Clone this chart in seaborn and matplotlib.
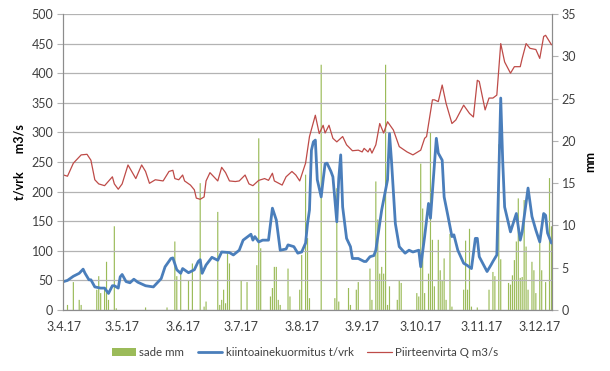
import matplotlib
matplotlib.use("Agg")
import matplotlib.dates as mdates
import matplotlib.pyplot as plt
import numpy as np
import pandas as pd
import seaborn as sns

start = pd.Timestamp("2017-04-03")

# sade mm (day offset from 3.4.17, mm)
rain_day = [2, 5, 8, 9, 17, 18, 19, 21, 22, 23, 26, 27, 42, 53, 57, 58, 60, 64, 66,
            70, 72, 73, 79, 80, 81, 82, 83, 84, 85, 91, 94, 99, 100, 101, 106, 107,
            108, 109, 110, 111, 115, 116, 121, 122, 124, 125, 126, 132, 139, 140, 141,
            146, 147, 150, 151, 157, 158, 160, 161, 162, 163, 164, 165, 166, 167, 171,
            172, 173, 181, 182, 183, 184, 185, 187, 188, 189, 190, 192, 193, 194, 195,
            196, 198, 199, 205, 206, 207, 208, 209, 212, 218, 220, 221, 223, 224, 228,
            229, 230, 231, 232, 233, 234, 235, 236, 237, 238, 240, 241, 242, 244, 245,
            247, 249, 250]
rain_mm = [0.6, 3.3, 1.2, 0.6, 2.4, 4.0, 2.0, 2.4, 5.7, 1.2, 9.9, 0.2, 0.3, 0.3, 8.1,
           4.0, 4.3, 3.5, 5.5, 15.0, 0.4, 1.0, 11.6, 0.6, 1.2, 2.4, 0.8, 6.7, 5.5, 3.5,
           3.3, 5.3, 20.3, 7.3, 1.6, 2.6, 5.1, 5.1, 1.2, 0.6, 4.9, 1.6, 2.4, 6.5, 16.0,
           8.5, 1.4, 29.0, 1.4, 14.4, 1.0, 2.6, 0.6, 2.4, 3.3, 4.9, 1.2, 15.2, 10.7,
           4.3, 5.1, 4.3, 29.0, 0.6, 2.8, 1.2, 3.5, 3.2, 2.0, 1.6, 17.3, 12.0, 2.0,
           4.3, 21.0, 8.3, 2.8, 8.3, 4.7, 3.5, 6.1, 1.2, 9.0, 0.4, 2.4, 8.2, 2.4, 9.6,
           0.4, 0.3, 2.4, 4.5, 4.0, 19.6, 6.0, 3.2, 3.0, 4.1, 5.9, 8.1, 13.2, 3.8, 3.9,
           13.0, 7.5, 2.4, 5.7, 4.7, 2.0, 8.1, 4.7, 3.3, 15.6, 9.9]

# kiintoainekuormitus t/vrk
load_day = [0, 2, 5, 8, 10, 11, 13, 14, 16, 19, 21, 23, 25, 26, 28, 29, 30, 32, 34,
            36, 38, 42, 46, 50, 52, 55, 56, 58, 60, 61, 64, 67, 69, 70, 71, 73, 76, 79,
            81, 85, 87, 90, 92, 96, 97, 98, 100, 102, 105, 107, 109, 111, 114, 115, 118,
            120, 122, 124, 125, 126, 127, 128, 129, 130, 132, 133, 134, 135, 137, 138,
            140, 141, 142, 143, 145, 147, 148, 151, 154, 155, 157, 159, 160, 163, 165,
            166, 167, 168, 170, 172, 175, 177, 179, 182, 183, 185, 187, 188, 191, 192,
            194, 195, 197, 199, 200, 202, 205, 207, 209, 211, 212, 213, 217, 219, 220,
            222, 224, 225, 226, 229, 232, 234, 235, 238, 240, 242, 244, 246, 247, 248,
            250]
load_t = [48, 50, 57, 62, 69, 62, 51, 51, 39, 37, 37, 28, 41, 41, 37, 56, 60, 48, 46,
          52, 47, 41, 39, 53, 73, 87, 88, 68, 62, 70, 63, 68, 82, 85, 62, 76, 89, 84,
          98, 97, 93, 101, 118, 128, 118, 124, 115, 118, 118, 172, 152, 101, 103, 110,
          107, 96, 98, 113, 146, 169, 270, 284, 287, 220, 191, 220, 247, 248, 234, 225,
          149, 222, 262, 174, 121, 107, 87, 87, 82, 82, 90, 92, 101, 169, 203, 220, 298,
          253, 146, 107, 96, 101, 98, 101, 73, 124, 180, 155, 290, 265, 253, 191, 158,
          124, 127, 101, 79, 75, 70, 121, 121, 90, 65, 76, 82, 93, 358, 253, 174, 132,
          163, 118, 132, 206, 158, 135, 115, 163, 160, 130, 113]

# Piirteenvirta Q m3/s
flow_day = [0, 2, 5, 9, 12, 14, 16, 18, 21, 25, 26, 28, 30, 33, 37, 40, 42, 44, 47,
            51, 54, 56, 57, 59, 61, 62, 65, 67, 68, 70, 72, 73, 75, 77, 79, 81, 83, 85,
            88, 90, 93, 95, 97, 100, 103, 105, 107, 108, 112, 114, 117, 119, 121, 124,
            126, 129, 131, 133, 134, 136, 138, 140, 143, 145, 148, 151, 153, 154, 156,
            157, 158, 160, 162, 164, 166, 169, 172, 176, 179, 183, 185, 186, 189, 190,
            192, 194, 196, 199, 201, 205, 208, 210, 212, 213, 216, 218, 220, 222, 224,
            226, 229, 231, 234, 235, 237, 239, 242, 244, 246, 247, 250]
flow_q = [228, 226, 248, 262, 263, 253, 220, 213, 210, 225, 213, 204, 213, 245, 222,
          245, 234, 214, 220, 218, 234, 236, 222, 220, 228, 218, 211, 203, 189, 187,
          191, 218, 232, 225, 218, 241, 232, 218, 217, 218, 228, 213, 210, 219, 222,
          219, 231, 218, 211, 225, 234, 228, 218, 248, 293, 329, 298, 312, 299, 312,
          290, 284, 293, 279, 269, 270, 267, 273, 267, 273, 265, 279, 315, 299, 318,
          304, 276, 267, 262, 270, 290, 293, 355, 355, 352, 380, 349, 315, 321, 346,
          332, 326, 388, 386, 338, 358, 358, 363, 450, 419, 400, 411, 411, 425, 450,
          442, 440, 425, 462, 464, 448]


def to_dates(days):
    return start + pd.to_timedelta(days, unit="D")


rain = pd.DataFrame({"date": to_dates(rain_day), "mm": rain_mm})
load = pd.DataFrame({"date": to_dates(load_day), "t": load_t})
flow = pd.DataFrame({"date": to_dates(flow_day), "q": flow_q})

sns.set_theme(style="white")
plt.rcParams["font.family"] = ["Lato", "DejaVu Sans"]
text_col = "#404040"
grid_col = "#b3b3b3"
green = "#9bbb59"

fig = plt.figure(figsize=(6.1, 3.71), dpi=100)
ax = fig.add_axes([0.1033, 0.1644, 0.8017, 0.7979])
ax2 = ax.twinx()

# rain bars on the right axis, behind the lines
bars = ax2.bar(rain["date"], rain["mm"], width=0.6, color=green, linewidth=0,
               label="sade mm")
for b in bars:
    b.set_snap(False)
ax2.set_ylim(0, 35)
ax2.set_yticks(np.arange(0, 36, 5))

ax.set_zorder(ax2.get_zorder() + 1)
ax.patch.set_visible(False)

sns.lineplot(data=load, x="date", y="t", ax=ax, color="#4a7ebb", linewidth=2.0,
             label="kiintoainekuormitus t/vrk")
sns.lineplot(data=flow, x="date", y="q", ax=ax, color="#be4b48", linewidth=0.9,
             label="Piirteenvirta Q m3/s")

ax.set_ylim(0, 500)
ax.set_yticks(np.arange(0, 501, 50))
ax.set_xlim(start - pd.Timedelta(days=0.3), flow["date"].max() + pd.Timedelta(days=0.3))
ax.xaxis.set_major_locator(mdates.MonthLocator(bymonthday=3))
ax.xaxis.set_major_formatter(mdates.DateFormatter("%-d.%-m.%y"))

ax.yaxis.grid(True, color=grid_col, linewidth=0.9)
ax.set_xlabel("")
ax.set_ylabel("t/vrk      m3/s", fontsize=9, fontweight="bold", color="black",
              labelpad=4)
ax2.set_ylabel("mm", fontsize=9, fontweight="bold", color="black", labelpad=6)

for a in (ax, ax2):
    a.tick_params(axis="both", labelsize=9, colors=text_col, length=4,
                  width=0.8, color=grid_col, direction="out")
    a.spines["top"].set_visible(False)
    for side in ("left", "right", "bottom"):
        a.spines[side].set_color("#8c8c8c")
        a.spines[side].set_linewidth(0.8)
ax.tick_params(axis="y", length=4, pad=3)
ax.tick_params(axis="x", pad=4)
ax2.tick_params(axis="y", pad=3)

ax.get_legend().remove()
h1, l1 = ax2.get_legend_handles_labels()
h2, l2 = ax.get_legend_handles_labels()
fig.legend(h1 + h2, l1 + l2, loc="center", bbox_to_anchor=(0.5, 0.05), ncol=3,
           frameon=False, fontsize=8.3, handlelength=2.1, columnspacing=1.2,
           handletextpad=0.3, labelcolor=text_col)

fig.savefig("out.png", dpi=100)
